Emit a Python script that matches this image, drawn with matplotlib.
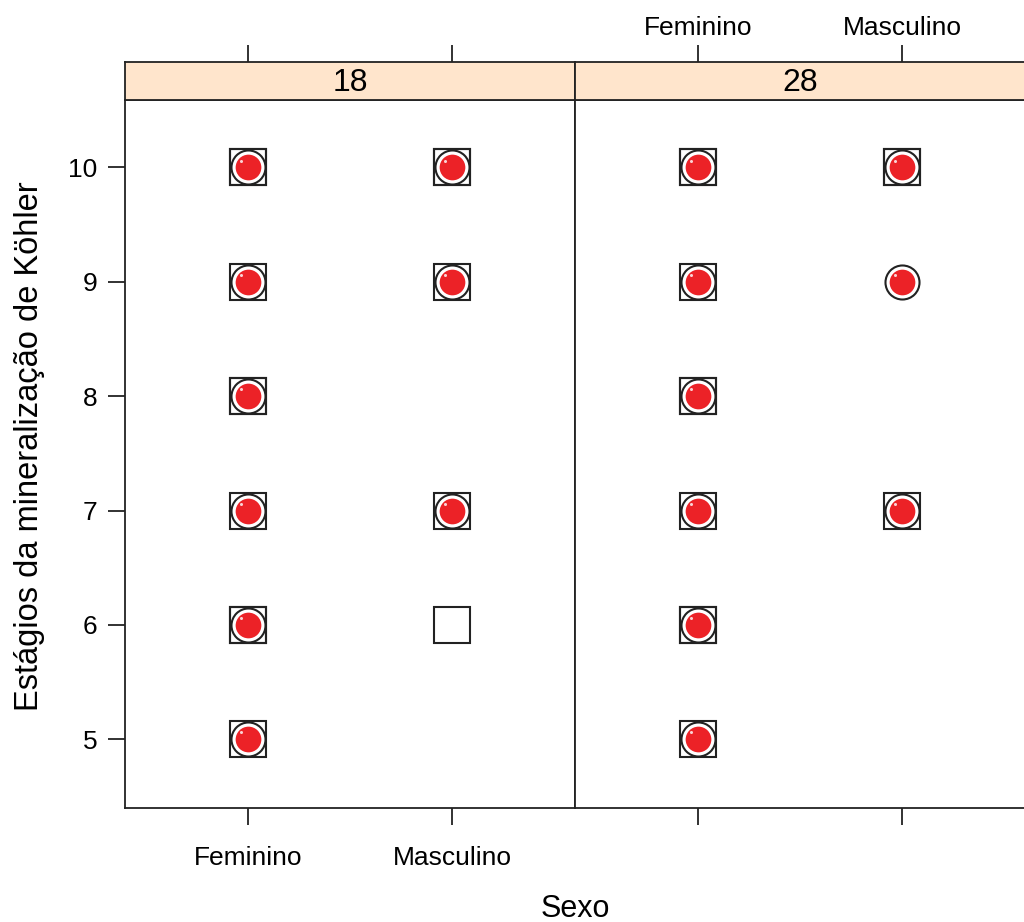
import numpy as np
import matplotlib.pyplot as plt
from matplotlib.transforms import ScaledTranslation

plt.rcParams['font.family'] = ['Liberation Sans', 'DejaVu Sans']

sexos = ['Feminino', 'Masculino']
idades = ['18', '28']
yticks = [5, 6, 7, 8, 9, 10]

# estágios por painel (idade) e sexo; valores repetidos = pontos sobrepostos
quadrado = {
    ('18', 'Feminino'): [10, 10, 9, 8, 8, 7, 6, 6, 5],
    ('18', 'Masculino'): [10, 10, 9, 7, 6],
    ('28', 'Feminino'): [10, 10, 9, 8, 8, 7, 6, 6, 5],
    ('28', 'Masculino'): [10, 10, 7],
}
circulo = {
    ('18', 'Feminino'): [10, 9, 8, 7, 6, 5],
    ('18', 'Masculino'): [10, 9, 7],
    ('28', 'Feminino'): [10, 9, 8, 7, 6, 5],
    ('28', 'Masculino'): [10, 9, 7],
}
ponto = {
    ('18', 'Feminino'): [10, 9, 8, 7, 6, 5],
    ('18', 'Masculino'): [10, 9, 7],
    ('28', 'Feminino'): [10, 9, 8, 7, 6, 5],
    ('28', 'Masculino'): [10, 9, 7],
}

W, H = 1024, 922
fig = plt.figure(figsize=(W / 100, H / 100), dpi=100)

left, mid, right = 125 / W, 575 / W, 1025 / W
bottom, top, strip_top = 1 - 808 / H, 1 - 100 / H, 1 - 62 / H

vermelho = '#EC2227'
xlim = (0.4, 2.6)
ylim = (4.4, 10.59)
tick_fs = 19

for i, idade in enumerate(idades):
    x0 = left if i == 0 else mid
    w = mid - left
    ax = fig.add_axes([x0, bottom, w, top - bottom])
    st = fig.add_axes([x0, top, w, strip_top - top])

    for j, sexo in enumerate(sexos):
        xpos = j + 1
        q = quadrado[(idade, sexo)]
        c = circulo[(idade, sexo)]
        p = ponto[(idade, sexo)]
        ax.plot([xpos] * len(q), q, 's', ms=26.5, mfc='none', mec='#222222',
                mew=1.5, ls='none')
        ax.plot([xpos] * len(c), c, 'o', ms=24.5, mfc='white', mec='#222222',
                mew=1.5, ls='none')
        ax.plot([xpos] * len(p), p, 'o', ms=18.5, mfc=vermelho, mec='none',
                ls='none')
        # pequeno brilho no canto superior esquerdo de cada ponto
        shift = ScaledTranslation(-5 / 72, 5 / 72, fig.dpi_scale_trans)
        ax.plot([xpos] * len(p), p, 'o', ms=2.2, mfc='white', mec='none',
                ls='none', alpha=0.8, transform=ax.transData + shift)

    ax.set_xlim(*xlim)
    ax.set_ylim(*ylim)
    ax.set_xticks([1, 2])
    ax.tick_params(direction='out', length=12, width=1.3, color='#222222',
                   labelsize=tick_fs, pad=15)
    if i == 0:
        ax.set_xticklabels(sexos)
        ax.set_yticks(yticks)
        ax.set_yticklabels([str(v) for v in yticks])
        ax.tick_params(axis='y', pad=8)
    else:
        ax.set_xticklabels([])
        ax.set_yticks([])
    for s in ax.spines.values():
        s.set_linewidth(1.3)
        s.set_color('#222222')
    if i == 1:
        ax.spines['right'].set_visible(False)

    st.set_facecolor('#FFE5CC')
    st.set_xlim(*xlim)
    st.set_ylim(0, 1)
    st.set_yticks([])
    st.set_xticks([1, 2])
    st.xaxis.tick_top()
    st.tick_params(direction='out', length=12, width=1.3, color='#222222',
                   labelsize=tick_fs, pad=4)
    if i == 1:
        st.set_xticklabels(sexos)
        st.spines['right'].set_visible(False)
    else:
        st.set_xticklabels([])
    for s in st.spines.values():
        s.set_linewidth(1.3)
        s.set_color('#222222')
    st.text(0.5, 0.45, idade, transform=st.transAxes, ha='center',
            va='center', fontsize=23)

fig.text(mid, 1 - 909 / H, 'Sexo', ha='center', va='center', fontsize=22)
fig.text(30 / W, 1 - 446 / H, 'Estágios da mineralização de Köhler',
         ha='center', va='center', rotation=90, fontsize=23.5)

fig.savefig('out.png', dpi=100)
